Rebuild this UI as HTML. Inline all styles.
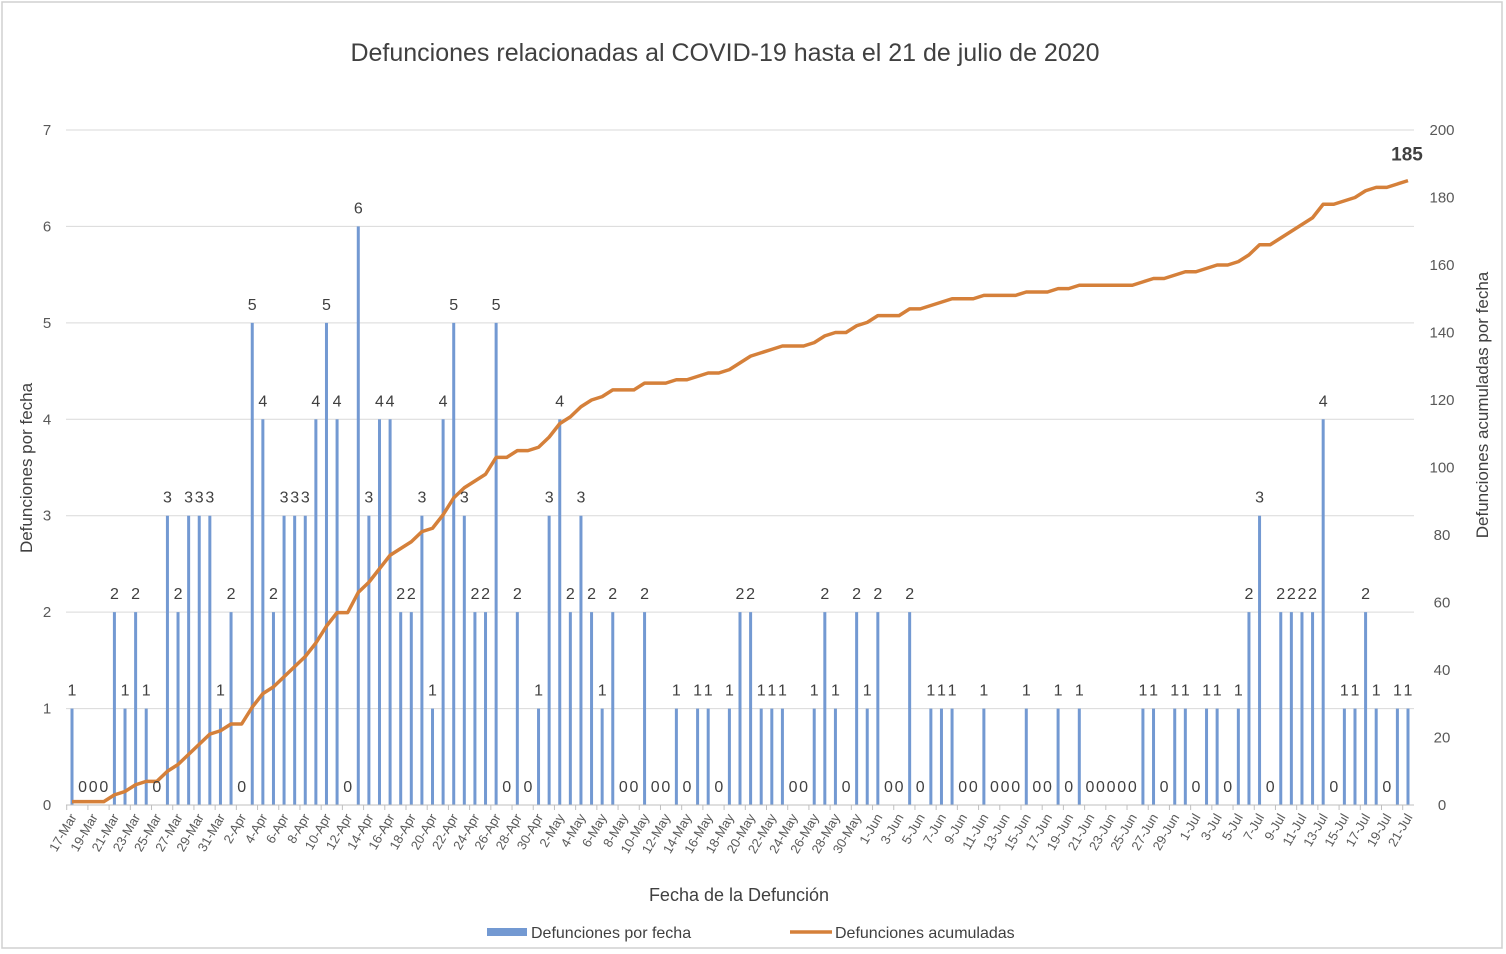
<!DOCTYPE html>
<html><head><meta charset="utf-8"><style>
body{margin:0;background:#fff;}
svg{display:block;font-family:"Liberation Sans",Arial,sans-serif;}
</style></head><body>
<svg id="chart" width="1506" height="954" viewBox="0 0 1506 954">
<rect x="2" y="2" width="1500" height="946" fill="#fff" stroke="#d0d0d0" stroke-width="1.5"/>
<text x="725" y="61" text-anchor="middle" font-size="25" fill="#404040">Defunciones relacionadas al COVID-19 hasta el 21 de julio de 2020</text>
<g id="grid"></g><g id="bars"></g><g id="line"></g><g id="labels"></g><g id="axes"></g>
<text transform="translate(32,468) rotate(-90)" text-anchor="middle" font-size="17" fill="#404040">Defunciones por fecha</text>
<text transform="translate(1488,405) rotate(-90)" text-anchor="middle" font-size="17" fill="#404040">Defunciones acumuladas por fecha</text>
<text x="739" y="901" text-anchor="middle" font-size="18" fill="#404040">Fecha de la Defunción</text>
<g>
<rect x="487" y="928" width="40" height="8" fill="#7399d2"/>
<text x="531" y="938" font-size="16" fill="#404040">Defunciones por fecha</text>
<line x1="790" y1="932" x2="832" y2="932" stroke="#d5803a" stroke-width="3.5"/>
<text x="835" y="938" font-size="16" fill="#404040">Defunciones acumuladas</text>
</g>
</svg>
<script>
const daily=[1,0,0,0,2,1,2,1,0,3, 2,3,3,3,1,2,0,5,4,2, 3,3,3,4,5,4,0,6,3,4, 4,2,2,3,1,4,5,3,2,2, 5,0,2,0,1,3,4,2,3,2, 1,2,0,0,2,0,0,1,0,1, 1,0,1,2,2,1,1,1,0,0, 1,2,1,0,2,1,2,0,0,2, 0,1,1,1,0,0,1,0,0,0, 1,0,0,1,0,1,0,0,0,0, 0,1,1,0,1,1,0,1,1,0, 1,2,3,0,2,2,2,2,4,0, 1,1,2,1,0,1,1];
const leftTicks=[0,1,2,3,4,5,6,7];
const rightTicks=[0,20,40,60,80,100,120,140,160,180,200];
const monthNames=["Mar","Apr","May","Jun","Jul"];
const startMonth=[2,17];
const monthLen=[31,30,31,30,31];
const NS="http://www.w3.org/2000/svg";
const X0=72,X1=1408,Y0=805,Y1=130;
const n=daily.length;
const x=i=>X0+(X1-X0)*i/(n-1);
const yL=v=>Y0-(Y0-Y1)*v/7;
const yR=v=>Y0-(Y0-Y1)*v/200;
function mk(tag,attrs,parent,txt){const e=document.createElementNS(NS,tag);for(const k in attrs)e.setAttribute(k,attrs[k]);if(txt!==undefined)e.textContent=txt;document.getElementById(parent).appendChild(e);return e;}
leftTicks.forEach(t=>{
 if(t>0){const g=mk('line',{x1:66,x2:1414,y1:yL(t),y2:yL(t),stroke:'#d9d9d9','stroke-width':1},'grid');
 
 }
 const l=mk('text',{x:47,y:yL(t)+5,'text-anchor':'middle','font-size':15,fill:'#595959'},'axes',t);
 
 
});
rightTicks.forEach(t=>{
 const l=mk('text',{x:1442,y:yR(t)+5,'text-anchor':'middle','font-size':15,fill:'#595959'},'axes',t);
 
 
});
const ax=mk('line',{x1:66,x2:1414,y1:Y0,y2:Y0,stroke:'#bfbfbf','stroke-width':1},'axes');


let m=0,d=startMonth[1];const dates=[];
for(let i=0;i<n;i++){dates.push(d+'-'+monthNames[m]);d++;if(d>monthLen[m]){d=1;m++;}}
for(let i=0;i<n;i+=2){
 const tk=mk('line',{x1:x(i)-5.3,x2:x(i)-5.3,y1:Y0,y2:Y0+5,stroke:'#bfbfbf'},'axes');
 
 
 const t=mk('text',{transform:`translate(${x(i)+5},${Y0+12}) rotate(-60)`,'text-anchor':'end','font-size':13,fill:'#595959'},'axes',dates[i]);
 
 
}
let cum=0;const cums=[];
daily.forEach((v,i)=>{
 cum+=v;cums.push(cum);
 const b=mk('rect',{x:x(i)-1.5,y:yL(v),width:3,height:Y0-yL(v),fill:'#7399d2'},'bars');
 
 
 const t=mk('text',{x:x(i),y:yL(v)-13,'text-anchor':'middle','font-size':16,fill:'#404040'},'labels',v);
 
 
});
const p=mk('polyline',{points:cums.map((c,i)=>x(i)+','+yR(c)).join(' '),fill:'none',stroke:'#d5803a','stroke-width':3.5,'stroke-linejoin':'round'},'line');


const fl=mk('text',{x:x(n-1)-1,y:yR(cums[n-1])-20,'text-anchor':'middle','font-size':19,'font-weight':'bold',fill:'#404040'},'labels',cums[n-1]);


</script>
</body></html>
